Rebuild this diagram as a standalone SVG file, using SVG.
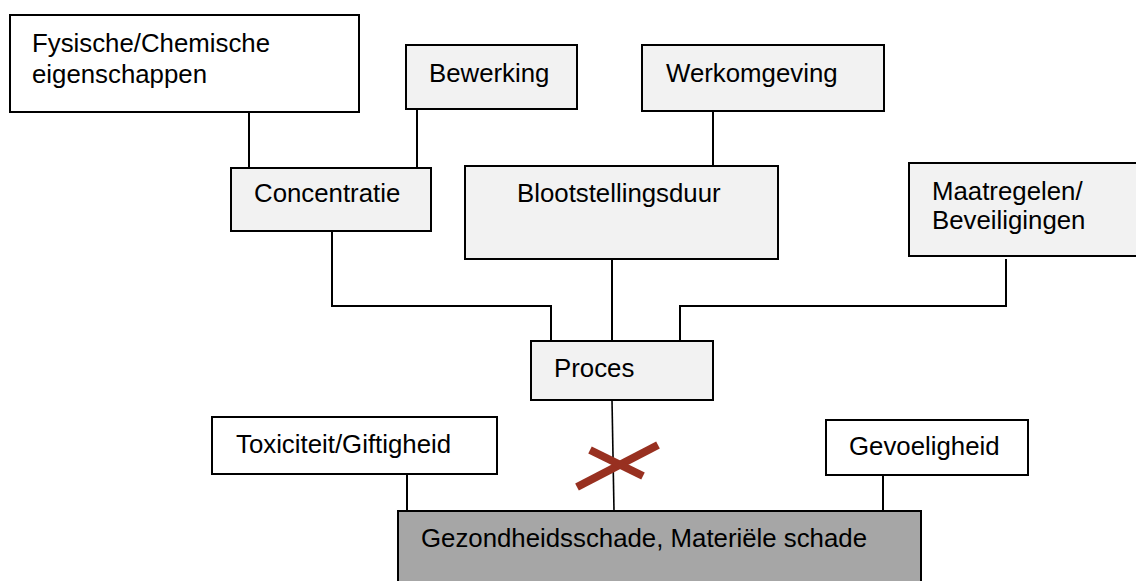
<svg xmlns="http://www.w3.org/2000/svg" width="1136" height="581" viewBox="0 0 1136 581">
<style>
.box{stroke:#000;stroke-width:2}
.w{fill:#fff}
.l{fill:#f2f2f2}
.d{fill:#a6a6a6}
text{font-family:"Liberation Sans",Arial,sans-serif;font-size:25.8px;fill:#000}
.c{fill:none;stroke:#000;stroke-width:2}
.x{stroke:#983020;stroke-width:8;stroke-linecap:butt}
</style>
<rect width="1136" height="581" fill="#fff"/>
<g id="connectors">
<path class="c" d="M249 112V168"/>
<path class="c" d="M417 109V168"/>
<path class="c" d="M713 111V168"/>
<path class="c" d="M332 231V306H551V341"/>
<path class="c" d="M612 260V341"/>
<path class="c" d="M1006 259V306H680V341"/>
<path class="c" d="M612 400L614 511" style="stroke-width:1.6"/>
<path class="c" d="M407 474V511"/>
<path class="c" d="M883 475V511"/>
</g>
<g id="fysische">
<rect class="box w" x="10" y="15" width="349" height="97"/>
<text x="32" y="52">Fysische/Chemische</text>
<text x="32" y="83">eigenschappen</text>
</g>
<g id="bewerking">
<rect class="box l" x="406" y="45" width="171" height="64"/>
<text x="429" y="82">Bewerking</text>
</g>
<g id="werkomgeving">
<rect class="box l" x="642" y="45" width="242" height="66"/>
<text x="666" y="82">Werkomgeving</text>
</g>
<g id="concentratie">
<rect class="box l" x="231" y="168" width="200" height="63"/>
<text x="254" y="202">Concentratie</text>
</g>
<g id="blootstellingsduur">
<rect class="box l" x="465" y="166" width="313" height="93"/>
<text x="517" y="202">Blootstellingsduur</text>
</g>
<g id="maatregelen">
<rect class="box l" x="909" y="163" width="232" height="93"/>
<text x="932" y="200">Maatregelen/</text>
<text x="932" y="229">Beveiligingen</text>
</g>
<g id="proces">
<rect class="box l" x="531" y="341" width="182" height="59"/>
<text x="554" y="377">Proces</text>
</g>
<g id="toxiciteit">
<rect class="box w" x="212" y="417" width="285" height="57"/>
<text x="236" y="453">Toxiciteit/Giftigheid</text>
</g>
<g id="gevoeligheid">
<rect class="box w" x="826" y="420" width="202" height="55"/>
<text x="849" y="455">Gevoeligheid</text>
</g>
<g id="gezondheid">
<rect class="box d" x="398" y="511" width="523" height="80"/>
<text x="421" y="547">Gezondheidsschade, Materiële schade</text>
</g>
<g id="cross">
<line class="x" x1="577" y1="487" x2="658" y2="445"/>
<line class="x" x1="590" y1="450" x2="643" y2="476"/>
</g>
</svg>
